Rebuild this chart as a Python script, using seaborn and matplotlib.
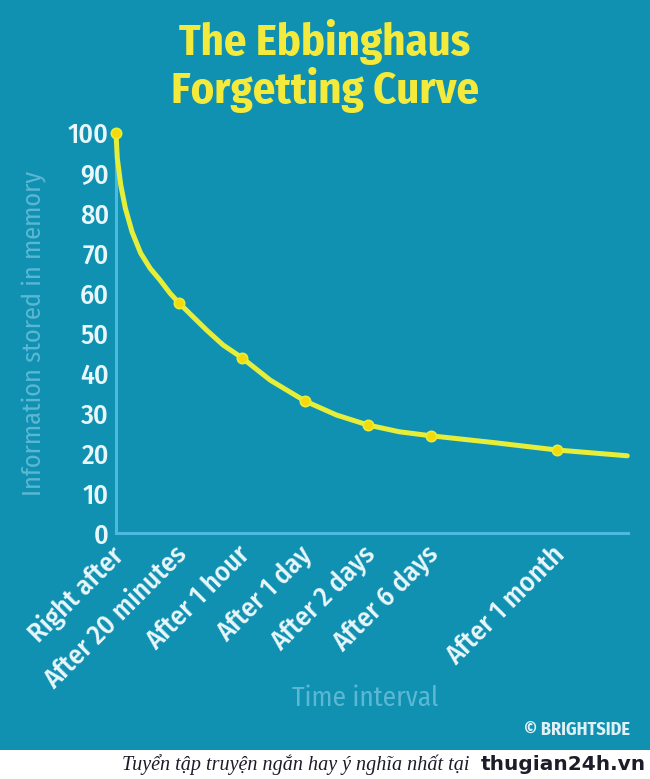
import pandas as pd
import matplotlib.pyplot as plt
import seaborn as sns
from matplotlib.patches import Rectangle
from matplotlib.transforms import ScaledTranslation

# Pontos marcados na curva
pos_marcas = [0, 1, 2, 3, 4, 5, 7]
rotulos = ["Right after", "After 20 minutes", "After 1 hour", "After 1 day",
           "After 2 days", "After 6 days", "After 1 month"]
valores_marcas = [100, 57.5, 43.8, 33, 27, 24.3, 20.75]

# Curva (posicao no eixo x, % retido)
curva_x = [0, 0.02, 0.075, 0.148, 0.254, 0.39, 0.54, 0.70, 0.86, 1.0, 1.44, 1.70,
           2.0, 2.45, 3.0, 3.5, 4.0, 4.5, 5.0, 6.0, 7.0, 8.12]
curva_y = [100, 93.7, 87, 81.2, 75.3, 70.0, 66.2, 63.2, 59.9, 57.5, 50.7, 47,
           43.8, 38.2, 33, 29.5, 27, 25.3, 24.3, 22.6, 20.75, 19.3]

fundo = "#1191b1"
amarelo = "#e6ee3a"
ponto = "#f6d90a"
eixo = "#4cb9dd"
rotulo_eixo = "#5ab8d4"
texto = "#e9f7fb"
estreita = ["Fira Sans Condensed", "DejaVu Sans"]

df_curva = pd.DataFrame({"x": curva_x, "y": curva_y})
df_marcas = pd.DataFrame({"x": pos_marcas, "y": valores_marcas})

sns.set_style("white", {"axes.facecolor": fundo, "figure.facecolor": fundo})
plt.rcParams["font.family"] = estreita

fig = plt.figure(figsize=(6.5, 7.79), dpi=100)
ax = fig.add_axes([0.1785, 0.3158, 0.966 - 0.1785, 0.5135])

sns.lineplot(data=df_curva, x="x", y="y", ax=ax, color=amarelo, linewidth=3.6,
             solid_capstyle="round", solid_joinstyle="round", clip_on=False, zorder=3)
sns.scatterplot(data=df_marcas, x="x", y="y", ax=ax, color=ponto, s=55,
                edgecolor=amarelo, linewidth=1.2, clip_on=False, zorder=4)

ax.set_xlim(0, 8.13)
ax.set_ylim(0, 100)
ax.set_yticks(range(0, 101, 10))
ax.set_xticks(pos_marcas)
ax.set_xticklabels(rotulos, rotation=45, ha="right", va="top", rotation_mode="anchor")
ax.tick_params(axis="both", length=0, colors=texto, labelsize=20)
ax.tick_params(axis="y", pad=5)
ax.tick_params(axis="x", pad=6)
desvio = ScaledTranslation(-0.06, 0, fig.dpi_scale_trans)
for lab in ax.get_xticklabels():
    lab.set_transform(lab.get_transform() + desvio)
for lab in ax.get_xticklabels() + ax.get_yticklabels():
    lab.set_fontweight("medium")

for lado in ["top", "right"]:
    ax.spines[lado].set_visible(False)
for lado in ["left", "bottom"]:
    ax.spines[lado].set_color(eixo)
    ax.spines[lado].set_linewidth(2.2)

ax.set_ylabel("Information stored in memory", color=rotulo_eixo, fontsize=19,
              labelpad=16)
ax.set_xlabel("")
fig.text(0.562, 0.104, "Time interval", color=rotulo_eixo, fontsize=19.5,
         ha="center", va="center")

fig.text(0.5, 0.946, "The Ebbinghaus", color="#f4ea3c", fontsize=32,
         fontweight="bold", ha="center", va="center")
fig.text(0.5, 0.884, "Forgetting Curve", color="#f4ea3c", fontsize=32,
         fontweight="bold", ha="center", va="center")

fig.text(0.97, 0.063, "© BRIGHTSIDE", color="#dff1f6", fontsize=13,
         fontweight="bold", ha="right", va="center")

# faixa branca inferior
fig.patches.append(Rectangle((0, 0), 1, 0.037, transform=fig.transFigure,
                             facecolor="white", edgecolor="none", zorder=0))
fig.text(0.722, 0.018, "Tuyển tập truyện ngắn hay ý nghĩa nhất tại",
         color="#1c1c2a", fontsize=14.5, fontstyle="italic",
         family=["Liberation Serif"], ha="right", va="center")
fig.text(0.993, 0.018, "thugian24h.vn", color="#1c1c2a", fontsize=14.5,
         fontweight="bold", family=["DejaVu Sans"], ha="right", va="center")

plt.savefig("out.png", dpi=100, facecolor=fundo)
